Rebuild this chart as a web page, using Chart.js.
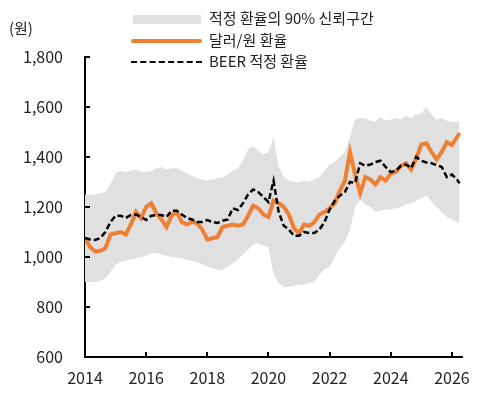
<!DOCTYPE html>
<html>
<head>
<meta charset="utf-8">
<script src="https://cdn.jsdelivr.net/npm/chart.js@4.4.1/dist/chart.umd.min.js"></script>
<style>
body{margin:0;background:#fff;}
#wrap{position:relative;width:487px;height:400px;font-family:"Noto Sans CJK KR","Noto Sans",sans-serif;color:#222;}
canvas{position:absolute;left:0;top:0;}
.lbl{position:absolute;font-size:15px;line-height:18px;white-space:nowrap;}
.sw{position:absolute;}
</style>
</head>
<body>
<div id="wrap">
<canvas id="grafico" width="487" height="400"></canvas>
<div class="lbl" style="left:9px;top:19px;">(원)</div>
<div class="sw" style="left:133px;top:15px;width:68px;height:9px;background:#e0e0e0;"></div>
<div class="lbl" style="left:209px;top:9px;">적정 환율의 90% 신뢰구간</div>
<div class="sw" style="left:131px;top:39px;width:71px;height:4px;background:#ee7f33;border-radius:2px;"></div>
<div class="lbl" style="left:209px;top:31px;">달러/원 환율</div>
<div class="sw" style="left:131px;top:61px;width:71px;height:0;border-top:2.5px dashed #000;"></div>
<div class="lbl" style="left:209px;top:52px;">BEER 적정 환율</div>
</div>
<script>

// =============================
// DADOS
// =============================

const meses = [
"2014-01","2014-03","2014-05","2014-07","2014-09","2014-11",
"2015-01","2015-03","2015-05","2015-07","2015-09","2015-11",
"2016-01","2016-03","2016-05","2016-07","2016-09","2016-11",
"2017-01","2017-03","2017-05","2017-07","2017-09","2017-11",
"2018-01","2018-03","2018-05","2018-07","2018-09","2018-11",
"2019-01","2019-03","2019-05","2019-07","2019-09","2019-11",
"2020-01","2020-03","2020-05","2020-07","2020-09","2020-11",
"2021-01","2021-03","2021-05","2021-07","2021-09","2021-11",
"2022-01","2022-03","2022-05","2022-07","2022-09","2022-11",
"2023-01","2023-03","2023-05","2023-07","2023-09","2023-11",
"2024-01","2024-03","2024-05","2024-07","2024-09","2024-11",
"2025-01","2025-03","2025-05","2025-07","2025-09","2025-11",
"2026-01","2026-03","2026-04"
];

// 달러/원 환율
const usdKrw = [
1075,1040,1022,1025,1035,1090,
1095,1100,1090,1130,1180,1155,
1200,1215,1175,1150,1120,1165,
1180,1140,1130,1140,1135,1110,
1070,1075,1080,1120,1125,1130,
1125,1130,1165,1205,1195,1170,
1160,1225,1215,1200,1170,1115,
1095,1130,1125,1140,1170,1180,
1195,1215,1265,1305,1420,1330,
1255,1320,1310,1290,1320,1305,
1335,1340,1365,1375,1350,1395,
1450,1455,1420,1390,1420,1460,
1448,1480,1495
];

// BEER 적정 환율
const beer = [
1076,1070,1068,1076,1100,1140,
1165,1165,1156,1168,1170,1160,
1148,1165,1168,1168,1160,1185,
1185,1170,1156,1150,1140,1140,
1148,1140,1136,1145,1150,1195,
1188,1215,1250,1270,1260,1240,
1220,1305,1180,1125,1110,1085,
1085,1100,1096,1096,1110,1140,
1190,1225,1245,1260,1300,1296,
1375,1365,1370,1380,1385,1360,
1340,1345,1365,1370,1356,1400,
1385,1378,1375,1368,1360,1320,
1330,1310,1295
];

// 90% 신뢰구간
const bandaSup = [
1250,1250,1250,1255,1260,1290,
1335,1345,1340,1345,1350,1340,
1340,1345,1355,1360,1350,1355,
1355,1345,1335,1325,1315,1310,
1305,1310,1315,1318,1330,1345,
1355,1385,1430,1445,1425,1410,
1420,1480,1360,1320,1305,1300,
1300,1305,1300,1310,1320,1345,
1370,1380,1400,1420,1480,1550,
1555,1555,1545,1540,1560,1545,
1550,1555,1550,1565,1555,1570,
1575,1600,1570,1550,1555,1545,
1540,1540,1545
];

const bandaInf = [
900,900,900,905,915,940,
970,980,985,990,995,1000,
1005,1015,1015,1010,1005,1000,
998,995,990,985,980,972,
962,955,950,948,960,975,
990,1010,1030,1050,1055,1045,
1040,930,895,880,880,885,
888,890,895,900,930,950,
960,1000,1035,1060,1110,1200,
1228,1210,1200,1180,1185,1190,
1190,1195,1200,1210,1215,1225,
1235,1245,1220,1200,1180,1160,
1150,1140,1135
];

const anosTicks = [2014,2016,2018,2020,2022,2024,2026];
const valoresTicks = [600,800,1000,1200,1400,1600,1800];


// =============================
// GRAFICO
// =============================

function paraAno(m){
const [a,mm] = m.split("-").map(Number);
return a + (mm-1)/12;
}

function pontos(serie){
return serie.map((v,i)=>({x:paraAno(meses[i]), y:v}));
}

// ticks para dentro
const ticksInternos = {
id:"ticksInternos",
afterDraw(chart){
const ctx = chart.ctx;
const xs = chart.scales.x;
const ys = chart.scales.y;
const area = chart.chartArea;
ctx.save();
ctx.strokeStyle = "#000";
ctx.lineWidth = 2;
ctx.beginPath();
anosTicks.forEach(a=>{
const px = Math.round(xs.getPixelForValue(a));
ctx.moveTo(px, area.bottom);
ctx.lineTo(px, area.bottom-5);
});
valoresTicks.forEach(v=>{
const py = Math.round(ys.getPixelForValue(v));
ctx.moveTo(area.left, py);
ctx.lineTo(area.left+5, py);
});
ctx.stroke();
ctx.restore();
}
};

const fonte = {family:"'Noto Sans CJK KR','Noto Sans',sans-serif", size:16};

new Chart(document.getElementById("grafico").getContext("2d"),{
type:"line",
data:{
datasets:[
{
label:"BEER 적정 환율",
data:pontos(beer),
borderColor:"#000",
borderWidth:2.5,
borderDash:[6,3],
pointRadius:0,
fill:false,
order:0
},
{
label:"달러/원 환율",
data:pontos(usdKrw),
borderColor:"#ee7f33",
borderWidth:4,
pointRadius:0,
fill:false,
order:1
},
{
label:"적정 환율의 90% 신뢰구간",
data:pontos(bandaSup),
borderWidth:0,
borderColor:"rgba(0,0,0,0)",
backgroundColor:"#e0e0e0",
pointRadius:0,
fill:"+1",
order:2
},
{
label:"lower",
data:pontos(bandaInf),
borderWidth:0,
borderColor:"rgba(0,0,0,0)",
pointRadius:0,
fill:false,
order:3
}
]
},
options:{
responsive:false,
animation:false,
layout:{padding:{top:57,right:25,left:0,bottom:0}},
plugins:{legend:{display:false},tooltip:{enabled:false}},
scales:{
x:{
type:"linear",
min:2014,
max:2026.33,
afterFit(s){ s.height = 43; },
afterBuildTicks(s){ s.ticks = anosTicks.map(v=>({value:v})); },
grid:{display:false,drawTicks:false},
border:{display:true,color:"#000",width:2},
ticks:{
color:"#222",
font:fonte,
padding:11,
maxRotation:0,
callback:v=>String(v)
}
},
y:{
min:600,
max:1800,
afterFit(s){ s.width = 85; },
afterBuildTicks(s){ s.ticks = valoresTicks.map(v=>({value:v})); },
grid:{display:false,drawTicks:false},
border:{display:true,color:"#000",width:2},
ticks:{
color:"#222",
font:fonte,
padding:22,
callback:v=>v.toLocaleString("en-US")
}
}
}
},
plugins:[ticksInternos]
});

</script>
</body>
</html>
